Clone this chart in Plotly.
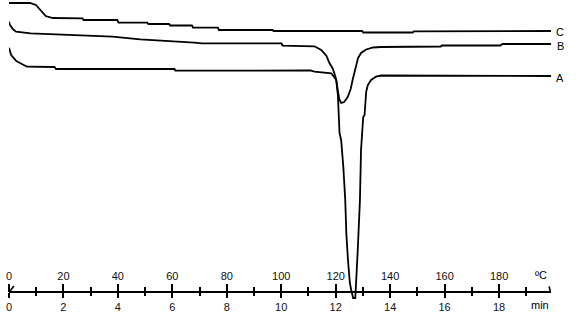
import plotly.graph_objects as go

# ---- data (time in min, heat-flow signal in arbitrary units) ----
t_C = [0.00, 0.77, 0.99, 1.24, 1.35, 1.61, 2.70, 2.74, 3.98, 4.02, 5.08, 5.12, 5.88, 5.92,
       6.72, 6.76, 7.67, 7.71, 9.68, 9.72, 12.97, 13.01, 14.83, 14.87, 19.91]
s_C = [297.0, 297.0, 295.0, 287.0, 284.0, 282.0, 281.7, 280.0, 280.0, 277.3, 277.3, 276.0, 276.0, 274.5,
       274.5, 272.3, 272.3, 270.0, 270.0, 269.0, 269.0, 267.5, 267.5, 268.7, 269.0]

t_B = [0.00, 0.04, 0.15, 0.26, 0.80, 2.34, 3.80, 4.82, 5.81, 6.80, 7.09, 10.01, 10.05,
       11.22, 11.47, 11.66, 11.77, 11.89, 11.97, 12.02, 12.08, 12.13, 12.20, 12.31, 12.44,
       12.55, 12.62, 12.69, 12.75, 12.82, 12.93, 13.12, 13.37, 13.67, 15.86, 15.89, 18.05, 18.12, 19.91]
s_B = [278.3, 275.0, 270.7, 268.3, 266.7, 265.0, 263.3, 260.7, 259.3, 257.3, 256.7, 256.7, 254.3,
       253.7, 250.0, 244.0, 237.0, 231.5, 225.0, 220.0, 209.0, 201.0, 197.0, 198.0, 203.0,
       211.0, 220.0, 228.0, 235.0, 242.0, 247.0, 250.5, 252.5, 253.0, 253.5, 254.5, 254.5, 256.0, 256.0]

t_A = [0.00, 0.08, 0.27, 0.45, 0.66, 1.67, 1.73, 6.08, 6.11, 11.07, 11.22, 11.84, 11.95,
       12.02, 12.08, 12.11, 12.14, 12.20, 12.28, 12.35, 12.39, 12.45, 12.52, 12.57, 12.64,
       12.72, 12.75, 12.81, 12.89, 12.93, 13.01, 13.06, 13.12, 13.18, 13.30, 13.48, 13.67, 19.91]
s_A = [252.3, 245.0, 239.0, 236.0, 233.3, 233.0, 231.0, 231.0, 229.3, 229.5, 228.3, 226.7, 223.3,
       220.0, 205.0, 185.0, 167.0, 160.0, 133.0, 100.0, 67.0, 40.0, 17.0, 10.0, 2.0,
       2.0, 15.0, 50.0, 100.0, 150.0, 183.0, 185.0, 208.3, 215.0, 220.0, 223.3, 224.5, 224.0]

min_ticks = [0, 2, 4, 6, 8, 10, 12, 14, 16, 18]
degC_ticks = [0, 20, 40, 60, 80, 100, 120, 140, 160, 180]
curve_labels = ["A", "B", "C"]

W, H = 578, 325
px_per_min = 27.37
x0_px, x1_px = 6, 551
t_max = (x1_px - x0_px) / px_per_min
axis_pos = (H - 292) / H

font = "Liberation Sans, Arial, sans-serif"

fig = go.Figure()
for t, s, name in [(t_A, s_A, "A"), (t_B, s_B, "B"), (t_C, s_C, "C")]:
    fig.add_trace(go.Scatter(x=t, y=s, mode="lines", name=name,
                             line=dict(color="#000000", width=1.8), showlegend=False,
                             hoverinfo="skip"))

# invisible trace on the °C axis so it is rendered
fig.add_trace(go.Scatter(x=[0], y=[None], xaxis="x2", yaxis="y", mode="lines",
                         showlegend=False, hoverinfo="skip"))

label_y = {"A": s_A[-1] - 1.5, "B": s_B[-1] - 1.5, "C": s_C[-1] - 0.5}
for name in curve_labels:
    fig.add_annotation(x=560 / W, xref="paper", y=label_y[name], yref="y", text=name,
                       showarrow=False, font=dict(family=font, size=11, color="#000000"),
                       xanchor="center", yanchor="middle", height=11, valign="middle")

fig.add_annotation(x=19.55, xref="x", y=25, yref="y", text="ºC", showarrow=False,
                   font=dict(family=font, size=11, color="#000000"))
fig.add_annotation(x=19.5, xref="x", y=-5, yref="y", text="min", showarrow=False,
                   font=dict(family=font, size=11, color="#000000"))

# small end hook and start mark of the axis
fig.add_shape(type="line", xref="x", yref="y", x0=19.88, y0=8.5, x1=19.84, y1=13.5,
              line=dict(color="#000000", width=1.6))
fig.add_shape(type="line", xref="x", yref="y", x0=0.04, y0=9, x1=0.18, y1=14,
              line=dict(color="#000000", width=1.6))

fig.update_layout(
    width=W, height=H,
    margin=dict(l=0, r=0, t=0, b=0),
    paper_bgcolor="white", plot_bgcolor="white",
    xaxis=dict(domain=[x0_px / W, x1_px / W], range=[0, t_max], anchor="free", position=axis_pos,
               showline=True, linecolor="#000000", linewidth=2.2,
               showgrid=False, zeroline=False,
               tickmode="array", tickvals=min_ticks, ticktext=[str(v) for v in min_ticks],
               ticks="outside", ticklen=5, tickwidth=2, tickcolor="#000000",
               minor=dict(dtick=1, tick0=0, ticks="outside", ticklen=3, tickwidth=1.6,
                          tickcolor="#000000", showgrid=False),
               tickfont=dict(family=font, size=11, color="#111111")),
    xaxis2=dict(domain=[x0_px / W, x1_px / W], range=[0, t_max * 10], overlaying="x", side="top",
                anchor="free", position=axis_pos,
                showline=False, showgrid=False, zeroline=False,
                tickmode="array", tickvals=degC_ticks, ticktext=[str(v) for v in degC_ticks],
                ticks="outside", ticklen=8, tickwidth=2, tickcolor="#000000",
                minor=dict(dtick=10, tick0=0, ticks="outside", ticklen=5, tickwidth=1.6,
                           tickcolor="#000000", showgrid=False),
                tickfont=dict(family=font, size=11, color="#111111")),
    yaxis=dict(domain=[0, 1], range=[-25, 300], visible=False, showgrid=False, zeroline=False),
)

fig.write_html("out.html")
